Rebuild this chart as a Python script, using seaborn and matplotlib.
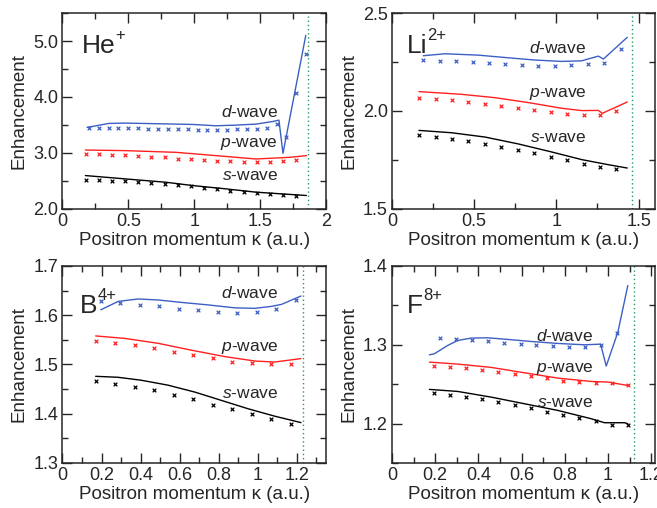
import matplotlib
matplotlib.use("Agg")
import matplotlib.pyplot as plt
from matplotlib.ticker import MultipleLocator, FormatStrFormatter
import seaborn as sns

# ---- He+ ----
he_s_line_k = [0.174, 0.479, 0.784, 0.987, 1.242, 1.47, 1.852]
he_s_line = [2.597, 2.537, 2.478, 2.419, 2.359, 2.30, 2.241]
he_p_line_k = [0.174, 0.479, 0.86, 1.165, 1.318, 1.47, 1.572, 1.725, 1.852]
he_p_line = [3.053, 3.042, 3.012, 2.953, 2.923, 2.893, 2.905, 2.923, 2.953]
he_d_line_k = [0.187, 0.352, 0.479, 0.733, 0.987, 1.165, 1.318, 1.47, 1.598, 1.643, 1.674, 1.847]
he_d_line = [3.457, 3.528, 3.534, 3.522, 3.51, 3.486, 3.498, 3.516, 3.563, 3.587, 2.994, 5.10]
he_sp_k = [0.175, 0.275, 0.375, 0.475, 0.575, 0.675, 0.775, 0.875, 0.975, 1.075,
           1.175, 1.275, 1.375, 1.475, 1.575, 1.675, 1.775]
he_s_pts = [2.525, 2.52, 2.508, 2.496, 2.478, 2.46, 2.448, 2.43, 2.407, 2.383,
            2.359, 2.33, 2.312, 2.288, 2.259, 2.241, 2.229]
he_p_pts = [2.976, 2.976, 2.97, 2.964, 2.947, 2.935, 2.923, 2.90, 2.887, 2.87,
            2.858, 2.852, 2.84, 2.84, 2.846, 2.852, 2.875]
he_d_k = [0.2, 0.275, 0.35, 0.425, 0.5, 0.575, 0.65, 0.725, 0.8, 0.875, 0.95, 1.025,
          1.1, 1.175, 1.25, 1.325, 1.4, 1.475, 1.55, 1.625, 1.7, 1.775, 1.85]
he_d_pts = [3.45, 3.45, 3.445, 3.445, 3.44, 3.44, 3.435, 3.43, 3.43, 3.425, 3.42, 3.415,
            3.41, 3.41, 3.415, 3.42, 3.425, 3.435, 3.44, 3.52, 3.28, 4.08, 4.76]

# ---- Li2+ ----
li_s_line_k = [0.164, 0.363, 0.566, 0.768, 0.971, 1.154, 1.316, 1.431]
li_s_line = [1.901, 1.889, 1.867, 1.832, 1.791, 1.752, 1.726, 1.709]
li_p_line_k = [0.164, 0.424, 0.626, 0.829, 1.032, 1.154, 1.255, 1.279, 1.431]
li_p_line = [2.099, 2.085, 2.068, 2.043, 2.014, 2.002, 2.003, 1.988, 2.046]
li_d_line_k = [0.19, 0.322, 0.525, 0.728, 0.87, 1.032, 1.154, 1.255, 1.286, 1.431]
li_d_line = [2.282, 2.292, 2.285, 2.27, 2.26, 2.253, 2.256, 2.28, 2.265, 2.376]
li_sp_k = [0.165, 0.265, 0.365, 0.465, 0.565, 0.665, 0.765, 0.865, 0.965, 1.065,
           1.165, 1.265, 1.365]
li_s_pts = [1.875, 1.867, 1.858, 1.848, 1.834, 1.815, 1.80, 1.785, 1.766, 1.749,
            1.732, 1.716, 1.703]
li_p_pts = [2.068, 2.062, 2.055, 2.046, 2.038, 2.026, 2.015, 2.003, 1.995, 1.986,
            1.979, 1.981, 2.0]
li_d_k = [0.19, 0.29, 0.39, 0.49, 0.59, 0.69, 0.79, 0.89, 0.99, 1.09, 1.19, 1.29, 1.39]
li_d_pts = [2.26, 2.256, 2.253, 2.248, 2.243, 2.238, 2.234, 2.229, 2.231, 2.234,
            2.239, 2.244, 2.318]

# ---- B4+ ----
b_s_line_k = [0.17, 0.285, 0.404, 0.541, 0.678, 0.815, 0.952, 1.088, 1.222]
b_s_line = [1.476, 1.474, 1.468, 1.458, 1.444, 1.427, 1.41, 1.395, 1.382]
b_p_line_k = [0.17, 0.319, 0.49, 0.661, 0.832, 0.986, 1.088, 1.222]
b_p_line = [1.558, 1.553, 1.543, 1.529, 1.516, 1.507, 1.505, 1.512]
b_d_line_k = [0.196, 0.285, 0.387, 0.49, 0.61, 0.746, 0.883, 0.986, 1.071, 1.122, 1.222]
b_d_line = [1.611, 1.628, 1.633, 1.631, 1.626, 1.621, 1.615, 1.614, 1.618, 1.622, 1.639]
b_sp_k = [0.17, 0.27, 0.37, 0.47, 0.57, 0.67, 0.77, 0.87, 0.97, 1.07, 1.17]
b_s_pts = [1.466, 1.461, 1.455, 1.448, 1.438, 1.429, 1.418, 1.409, 1.399, 1.389, 1.380]
b_p_pts = [1.548, 1.543, 1.539, 1.533, 1.526, 1.520, 1.513, 1.506, 1.503, 1.50, 1.502]
b_d_k = [0.195, 0.295, 0.395, 0.495, 0.595, 0.695, 0.795, 0.895, 0.995, 1.095, 1.195]
b_d_pts = [1.628, 1.625, 1.621, 1.618, 1.613, 1.610, 1.607, 1.605, 1.606, 1.613, 1.630]

# ---- F8+ ----
f_s_line_k = [0.173, 0.304, 0.459, 0.613, 0.768, 0.922, 0.984, 1.077, 1.092]
f_s_line = [1.2434, 1.2408, 1.2336, 1.2252, 1.2167, 1.2062, 1.2011, 1.2011, 1.1998]
f_p_line_k = [0.173, 0.304, 0.459, 0.613, 0.768, 0.922, 1.0, 1.092]
f_p_line = [1.278, 1.2755, 1.2713, 1.2645, 1.2577, 1.2535, 1.2527, 1.2484]
f_d_line_k = [0.173, 0.196, 0.258, 0.304, 0.366, 0.443, 0.536, 0.644, 0.768, 0.891,
              0.966, 0.992, 1.046, 1.092]
f_d_line = [1.2873, 1.2886, 1.2992, 1.3055, 1.3085, 1.3089, 1.3068, 1.3042, 1.3017,
            1.30, 1.3008, 1.273, 1.3161, 1.3752]
f_sp_k = [0.193, 0.268, 0.343, 0.418, 0.493, 0.568, 0.643, 0.718, 0.793, 0.868,
          0.943, 1.018, 1.093]
f_s_pts = [1.2387, 1.2366, 1.2336, 1.2307, 1.2273, 1.2235, 1.2193, 1.215, 1.2112,
           1.207, 1.2028, 1.1986, 1.1986]
f_p_pts = [1.2734, 1.2717, 1.27, 1.268, 1.2658, 1.2628, 1.26, 1.2573, 1.2544, 1.2527,
           1.251, 1.251, 1.2484]
f_d_k = [0.221, 0.296, 0.37, 0.445, 0.52, 0.595, 0.669, 0.744, 0.819, 0.893, 0.968, 1.043]
f_d_pts = [1.309, 1.3076, 1.3063, 1.305, 1.3025, 1.3013, 1.30, 1.2987, 1.2978, 1.297,
           1.30, 1.315]

# thresholds (green dotted)
thresholds = [1.865, 1.461, 1.235, 1.122]
ion_base = ["He", "Li", "B", "F"]
ion_charge = ["+", "2+", "4+", "8+"]

sns.set_style("ticks")
plt.rcParams["font.family"] = ["Liberation Sans", "DejaVu Sans"]
plt.rcParams["mathtext.fontset"] = "custom"
plt.rcParams["mathtext.rm"] = "Liberation Sans"
plt.rcParams["mathtext.it"] = "Liberation Sans:italic"
plt.rcParams["xtick.direction"] = "in"
plt.rcParams["ytick.direction"] = "in"
plt.rcParams["xtick.top"] = True
plt.rcParams["ytick.right"] = True

BLUE = "#3d5fc4"
RED = "#ff2020"
GREEN = "#1f9e5a"

panels = [
    dict(rect=[0.0951, 0.5886, 0.401, 0.3858], xlim=(0, 2), ylim=(2.0, 5.5),
         xmaj=0.5, xmin=0.25, ymaj=1.0, ymin=0.5,
         s=(he_s_line_k, he_s_line, he_sp_k, he_s_pts),
         p=(he_p_line_k, he_p_line, he_sp_k, he_p_pts),
         d=(he_d_line_k, he_d_line, he_d_k, he_d_pts),
         lab_x=0.818, lab_y=(0.148, 0.316, 0.469), ion=(0.073, 0.797)),
    dict(rect=[0.5967, 0.5886, 0.4003, 0.3858], xlim=(0, 1.6), ylim=(1.5, 2.5),
         xmaj=0.5, xmin=0.25, ymaj=0.5, ymin=0.25,
         s=(li_s_line_k, li_s_line, li_sp_k, li_s_pts),
         p=(li_p_line_k, li_p_line, li_sp_k, li_p_pts),
         d=(li_d_line_k, li_d_line, li_d_k, li_d_pts),
         lab_x=0.740, lab_y=(0.343, 0.573, 0.794), ion=(0.057, 0.797)),
    dict(rect=[0.0951, 0.0886, 0.401, 0.3878], xlim=(0, 1.35), ylim=(1.3, 1.7),
         xmaj=0.2, xmin=0.1, ymaj=0.1, ymin=0.05,
         s=(b_s_line_k, b_s_line, b_sp_k, b_s_pts),
         p=(b_p_line_k, b_p_line, b_sp_k, b_p_pts),
         d=(b_d_line_k, b_d_line, b_d_k, b_d_pts),
         lab_x=0.819, lab_y=(0.328, 0.570, 0.836), ion=(0.066, 0.76)),
    dict(rect=[0.5967, 0.0886, 0.4003, 0.3878], xlim=(0, 1.218), ylim=(1.15, 1.4),
         xmaj=0.2, xmin=0.1, ymaj=0.1, ymin=0.05,
         s=(f_s_line_k, f_s_line, f_sp_k, f_s_pts),
         p=(f_p_line_k, f_p_line, f_sp_k, f_p_pts),
         d=(f_d_line_k, f_d_line, f_d_k, f_d_pts),
         lab_x=0.765, lab_y=(0.286, 0.463, 0.621), ion=(0.058, 0.76)),
]

fig = plt.figure(figsize=(6.57, 5.08), dpi=100)

for i, pn in enumerate(panels):
    ax = fig.add_axes(pn["rect"])
    for key, col in (("s", "black"), ("p", RED), ("d", BLUE)):
        lk, ly, mk, my = pn[key]
        sns.lineplot(x=lk, y=ly, ax=ax, color=col, linewidth=1.0,
                     estimator=None, sort=False)
        sns.scatterplot(x=mk, y=my, ax=ax, color=col, marker="x", s=7,
                        linewidth=0.9, zorder=3)
    ax.axvline(thresholds[i], color=GREEN, linestyle=(0, (1, 2)), linewidth=1.0)

    ax.set_xlim(*pn["xlim"])
    ax.set_ylim(*pn["ylim"])
    ax.xaxis.set_major_locator(MultipleLocator(pn["xmaj"]))
    ax.xaxis.set_minor_locator(MultipleLocator(pn["xmin"]))
    ax.yaxis.set_major_locator(MultipleLocator(pn["ymaj"]))
    ax.yaxis.set_minor_locator(MultipleLocator(pn["ymin"]))
    ax.xaxis.set_major_formatter(FormatStrFormatter("%g"))
    ax.yaxis.set_major_formatter(FormatStrFormatter("%.1f"))
    ax.tick_params(which="major", length=7.5, width=1.0, labelsize=13, pad=3)
    ax.tick_params(which="minor", length=4, width=1.0)
    ax.tick_params(which="both", top=True, right=True, direction="in")
    for sp in ax.spines.values():
        sp.set_linewidth(1.1)
        sp.set_visible(True)

    ax.set_xlabel("Positron momentum \u03ba (a.u.)", fontsize=13.5, labelpad=1)
    ax.set_ylabel("Enhancement", fontsize=13.5, labelpad=4)

    tx = pn["lab_x"]
    for lbl, ty in zip((r"$\mathit{s}$-wave", r"$\mathit{p}$-wave", r"$\mathit{d}$-wave"),
                       pn["lab_y"]):
        ax.text(tx, ty, lbl, transform=ax.transAxes, ha="right", va="baseline",
                fontsize=12.5)
    base = ax.text(pn["ion"][0], pn["ion"][1], ion_base[i], transform=ax.transAxes,
                   ha="left", va="baseline", fontsize=19)
    ax.annotate(ion_charge[i], xy=(1.0, 0.62), xycoords=base, ha="left",
                va="bottom", fontsize=12)

fig.savefig("out.png", dpi=100)
